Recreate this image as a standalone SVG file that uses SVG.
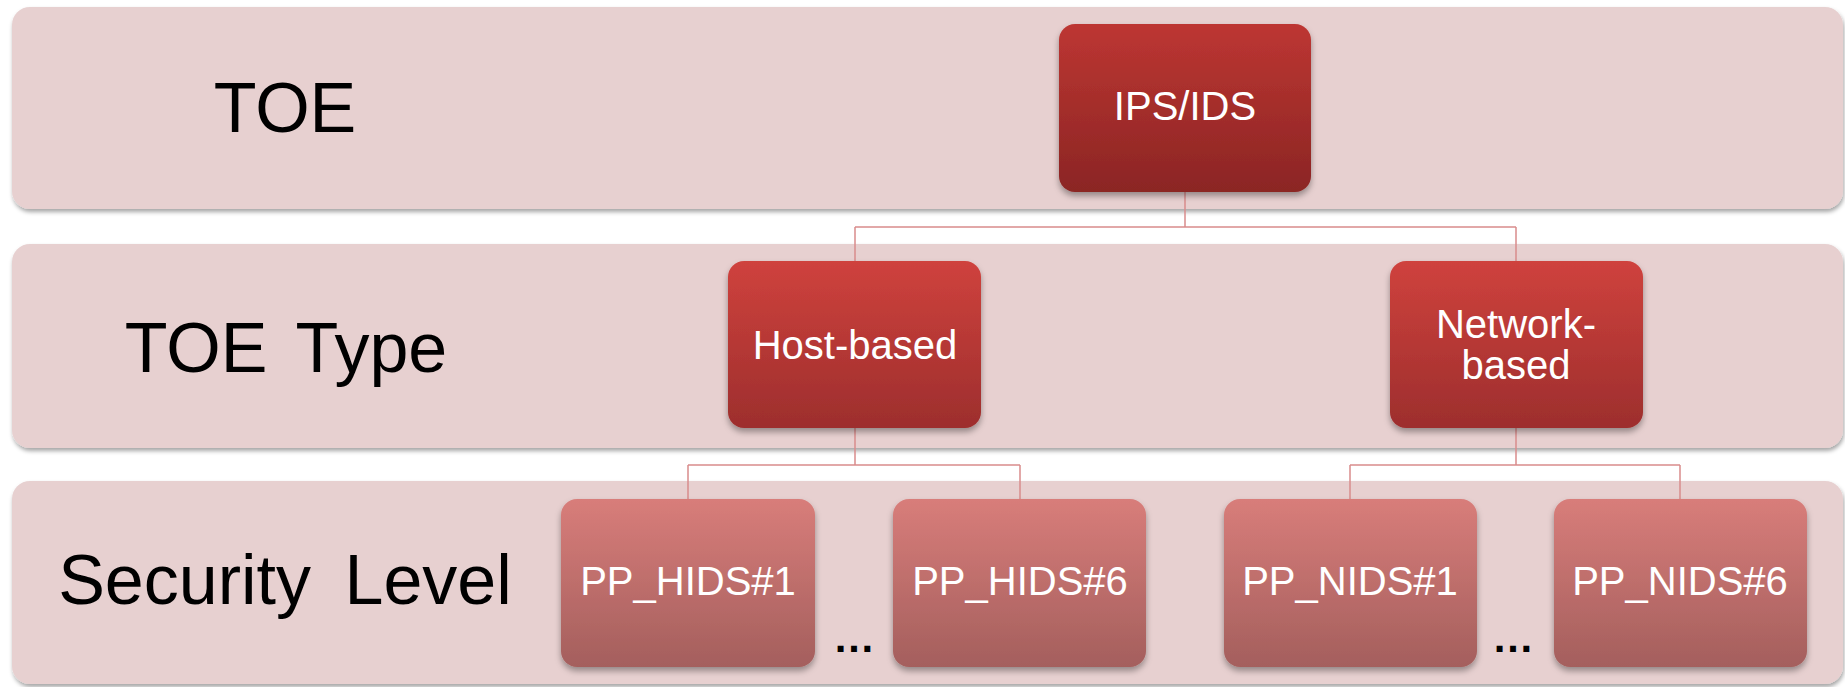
<svg xmlns="http://www.w3.org/2000/svg" width="1845" height="687" viewBox="0 0 1845 687">
  <defs>
    <linearGradient id="g1" x1="0" y1="0" x2="0" y2="1">
      <stop offset="0" stop-color="#bd3632"/>
      <stop offset="1" stop-color="#8b2524"/>
    </linearGradient>
    <linearGradient id="g2" x1="0" y1="0" x2="0" y2="1">
      <stop offset="0" stop-color="#cf423d"/>
      <stop offset="1" stop-color="#9d2e2d"/>
    </linearGradient>
    <linearGradient id="g3" x1="0" y1="0" x2="0" y2="1">
      <stop offset="0" stop-color="#d87d7a"/>
      <stop offset="1" stop-color="#a45f5d"/>
    </linearGradient>
    <filter id="bandShadow" x="-5%" y="-10%" width="110%" height="125%">
      <feDropShadow dx="1" dy="3" stdDeviation="2" flood-color="#000" flood-opacity="0.35"/>
    </filter>
    <filter id="nodeShadow" x="-10%" y="-10%" width="120%" height="125%">
      <feDropShadow dx="0" dy="4" stdDeviation="3" flood-color="#000" flood-opacity="0.35"/>
    </filter>
  </defs>
  <style>
    .band { fill: #e7d0d0; filter: url(#bandShadow); }
    .lbl { font-family: "Liberation Sans", Arial, sans-serif; font-size: 70px; fill: #000; text-anchor: middle; }
    .ntxt { font-family: "Liberation Sans", Arial, sans-serif; font-size: 40px; fill: #fff; text-anchor: middle; }
    .dots { font-family: "Liberation Sans", Arial, sans-serif; font-size: 42px; font-weight: bold; fill: #000; text-anchor: middle; }
    .node { filter: url(#nodeShadow); }
    .conn { fill: none; stroke: #d98c8c; stroke-width: 1.5; }
  </style>
  <rect width="1845" height="687" fill="#ffffff"/>

  <g id="band-toe">
    <rect class="band" x="12" y="7" width="1831" height="202" rx="18"/>
    <text class="lbl" x="285" y="132">TOE</text>
  </g>
  <g id="band-toetype">
    <rect class="band" x="12" y="244" width="1831" height="204" rx="18"/>
    <text class="lbl" x="286" y="372" word-spacing="10">TOE Type</text>
  </g>
  <g id="band-security">
    <rect class="band" x="12" y="481" width="1831" height="203" rx="18"/>
    <text class="lbl" x="285" y="604" word-spacing="14">Security Level</text>
  </g>

  <g id="connectors">
    <path class="conn" d="M1185 192 V227 M855 227 H1516 M855 227 V261 M1516 227 V261"/>
    <path class="conn" d="M855 428 V465 M688 465 H1020 M688 465 V499 M1020 465 V499"/>
    <path class="conn" d="M1516 428 V465 M1350 465 H1680 M1350 465 V499 M1680 465 V499"/>
  </g>

  <g id="node-ipsids">
    <rect class="node" x="1059" y="24" width="252" height="168" rx="16" fill="url(#g1)"/>
    <text class="ntxt" x="1185" y="120">IPS/IDS</text>
  </g>
  <g id="node-hostbased">
    <rect class="node" x="728" y="261" width="253" height="167" rx="16" fill="url(#g2)"/>
    <text class="ntxt" x="855" y="359">Host-based</text>
  </g>
  <g id="node-networkbased">
    <rect class="node" x="1390" y="261" width="253" height="167" rx="16" fill="url(#g2)"/>
    <text class="ntxt" x="1516" y="338">Network-</text>
    <text class="ntxt" x="1516" y="379">based</text>
  </g>
  <g id="node-pphids1">
    <rect class="node" x="561" y="499" width="254" height="168" rx="16" fill="url(#g3)"/>
    <text class="ntxt" x="688" y="595">PP_HIDS#1</text>
  </g>
  <g id="node-pphids6">
    <rect class="node" x="893" y="499" width="253" height="168" rx="16" fill="url(#g3)"/>
    <text class="ntxt" x="1020" y="595">PP_HIDS#6</text>
  </g>
  <g id="node-ppnids1">
    <rect class="node" x="1224" y="499" width="253" height="168" rx="16" fill="url(#g3)"/>
    <text class="ntxt" x="1350" y="595">PP_NIDS#1</text>
  </g>
  <g id="node-ppnids6">
    <rect class="node" x="1554" y="499" width="253" height="168" rx="16" fill="url(#g3)"/>
    <text class="ntxt" x="1680" y="595">PP_NIDS#6</text>
  </g>
  <g id="ellipsis-1">
    <text class="dots" x="854" y="652">…</text>
  </g>
  <g id="ellipsis-2">
    <text class="dots" x="1513" y="652">…</text>
  </g>
</svg>
